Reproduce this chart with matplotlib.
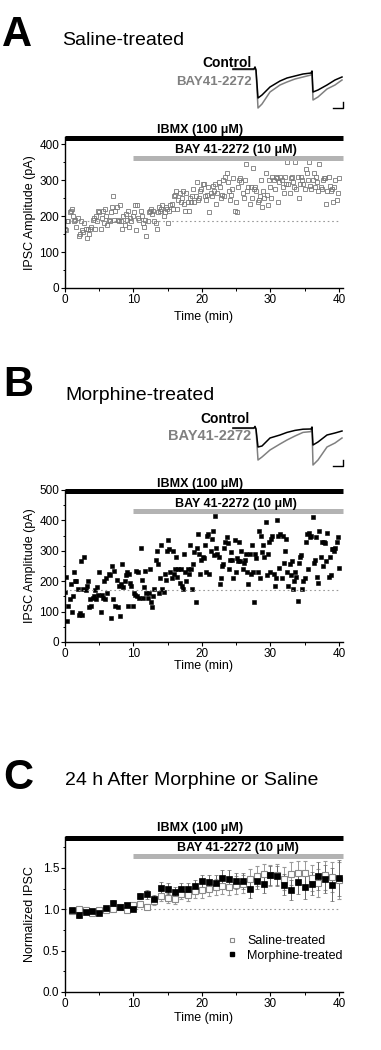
import numpy as np
import matplotlib.pyplot as plt
from matplotlib.ticker import MultipleLocator
from matplotlib.lines import Line2D

plt.rcParams['font.family'] = ['Liberation Sans', 'DejaVu Sans']

# ---- data ----
# A: saline-treated, IPSC amplitude (pA), one sweep every 10 s
saline_amp = [165, 160, 185, 185, 210, 215, 220, 200, 185, 190, 170, 195,
              145, 150, 185, 160, 155, 180, 165, 140, 165, 150, 165, 170,
              190, 195, 165, 200, 185, 215, 210, 165, 195, 215, 180, 220,
              200, 175, 190, 185, 210, 225, 255, 190, 215, 225, 190, 185,
              230, 185, 165, 200, 175, 205, 190, 215, 170, 195, 185, 200,
              210, 230, 160, 230, 195, 190, 215, 200, 180, 170, 190, 145,
              185, 210, 215, 220, 205, 215, 185, 180, 165, 210, 225, 215,
              220, 230, 200, 210, 225, 220, 180, 215, 230, 235, 220, 255,
              260, 270, 220, 245, 265, 240, 250, 270, 235, 215, 265, 240,
              215, 250, 240, 255, 275, 240, 255, 295, 245, 250, 270, 275,
              290, 290, 255, 245, 260, 280, 210, 265, 255, 285, 270, 290,
              235, 265, 295, 280, 250, 260, 300, 255, 310, 320, 295, 270,
              245, 260, 275, 305, 215, 240, 210, 280, 300, 305, 295, 265,
              250, 300, 345, 270, 280, 235, 280, 250, 335, 275, 280, 270,
              240, 245, 255, 300, 225, 270, 250, 320, 260, 230, 300, 280,
              250, 310, 300, 275, 310, 305, 240, 295, 310, 300, 280, 265,
              310, 290, 350, 290, 265, 305, 310, 295, 280, 350, 275, 310,
              250, 290, 310, 300, 290, 275, 330, 320, 300, 350, 285, 275,
              300, 320, 280, 310, 295, 270, 345, 280, 275, 300, 305, 305,
              235, 270, 310, 285, 270, 275, 240, 280, 300, 245, 265, 305]

# B: morphine-treated, IPSC amplitude (pA)
morph_amp = [165, 215, 70, 120, 140, 190, 100, 150, 230, 200, 200, 175,
             90, 95, 265, 90, 175, 280, 170, 185, 200, 115, 140, 120,
             145, 150, 170, 140, 180, 155, 230, 100, 155, 145, 200, 140,
             210, 160, 225, 220, 80, 250, 140, 235, 120, 205, 115, 185,
             85, 190, 255, 180, 200, 220, 230, 120, 225, 195, 185, 120,
             160, 155, 235, 150, 230, 145, 310, 205, 145, 180, 235, 160,
             145, 160, 240, 130, 115, 150, 175, 270, 300, 255, 160, 210,
             320, 175, 165, 225, 205, 300, 335, 305, 230, 210, 300, 225,
             240, 280, 215, 240, 195, 240, 185, 175, 290, 230, 200, 240,
             225, 320, 240, 175, 255, 295, 130, 310, 355, 290, 225, 270,
             280, 275, 320, 230, 350, 355, 225, 300, 340, 365, 285, 415,
             310, 290, 280, 190, 210, 250, 255, 310, 330, 345, 325, 240,
             270, 295, 270, 210, 335, 230, 275, 265, 330, 265, 300, 240,
             260, 270, 290, 230, 190, 290, 225, 320, 230, 130, 290, 275,
             230, 365, 210, 350, 295, 320, 280, 395, 220, 290, 330, 230,
             340, 350, 225, 185, 210, 400, 350, 245, 355, 210, 350, 260,
             300, 340, 230, 185, 255, 220, 265, 175, 200, 230, 215, 135,
             260, 280, 285, 175, 200, 210, 330, 355, 240, 360, 345, 350,
             410, 260, 270, 345, 215, 195, 365, 280, 330, 250, 330, 325,
             265, 360, 215, 280, 220, 305, 305, 300, 310, 330, 345, 245]
sweep_time = np.linspace(0, 40, len(saline_amp))
saline_base = 187
morph_base = 171

# C: normalized IPSC, 1-min bins, mean +/- SEM
bin_time = np.arange(1, 41)
sal_norm = [0.98, 1.00, 0.99, 0.96, 0.99, 0.99, 1.01, 1.03, 0.99, 1.05,
            1.07, 1.03, 1.10, 1.16, 1.14, 1.13, 1.18, 1.17, 1.22, 1.23,
            1.25, 1.27, 1.28, 1.27, 1.29, 1.31, 1.37, 1.40, 1.43, 1.41,
            1.42, 1.37, 1.43, 1.44, 1.44, 1.38, 1.32, 1.41, 1.39, 1.35]
sal_err = [0.02, 0.02, 0.02, 0.02, 0.02, 0.02, 0.02, 0.02, 0.02, 0.03,
           0.03, 0.03, 0.05, 0.06, 0.06, 0.06, 0.06, 0.07, 0.08, 0.09,
           0.09, 0.10, 0.10, 0.10, 0.11, 0.11, 0.12, 0.12, 0.12, 0.13,
           0.13, 0.14, 0.14, 0.15, 0.15, 0.16, 0.17, 0.18, 0.18, 0.22]
morph_norm = [0.99, 0.93, 0.97, 0.98, 0.95, 1.02, 1.08, 1.03, 1.05, 1.01,
              1.16, 1.18, 1.12, 1.26, 1.25, 1.21, 1.25, 1.25, 1.28, 1.34,
              1.33, 1.32, 1.38, 1.37, 1.34, 1.34, 1.24, 1.34, 1.31, 1.41,
              1.40, 1.30, 1.23, 1.33, 1.27, 1.31, 1.40, 1.37, 1.30, 1.38]
morph_err = [0.02, 0.03, 0.02, 0.02, 0.02, 0.02, 0.03, 0.02, 0.03, 0.02,
             0.04, 0.05, 0.05, 0.07, 0.07, 0.06, 0.07, 0.07, 0.08, 0.08,
             0.09, 0.09, 0.10, 0.10, 0.10, 0.10, 0.10, 0.10, 0.11, 0.12,
             0.12, 0.13, 0.12, 0.14, 0.14, 0.14, 0.17, 0.17, 0.20, 0.22]

# example traces (ms, pA)
trace_t = [3, 24, 25, 26, 28, 32, 40, 50, 57, 65, 73, 81, 82, 83, 88, 97, 105, 112]
tr_a_ctrl = [0, 0, 10, -5, -145, -130, -90, -60, -45, -35, -25, -20, -10,
             -115, -105, -80, -55, -40]
tr_a_bay = [-3, -3, 8, -8, -195, -175, -115, -80, -65, -50, -40, -30, -15,
            -155, -140, -100, -80, -55]
tr_b_ctrl = [0, 0, 8, -5, -95, -90, -50, -35, -22, -12, -6, -5, 5,
             -85, -70, -35, -25, -15]
tr_b_bay = [-2, -2, 6, -8, -160, -145, -110, -80, -60, -40, -22, -18, 0,
            -185, -160, -95, -75, -50]

IBMX_LABEL = 'IBMX (100 \u03bcM)'
BAY_LABEL = 'BAY 41-2272 (10 \u03bcM)'
BAY_START = 10

W, H = 381, 1050
fig = plt.figure(figsize=(W / 100, H / 100), dpi=100)
GREY = '#808080'


def box(x0, y0, x1, y1):
    return [x0 / W, 1 - y1 / H, (x1 - x0) / W, (y1 - y0) / H]


def ftext(x, y, s, **kw):
    fig.text(x / W, 1 - y / H, s, **kw)


def style(ax, ymaj, ymin):
    ax.spines['top'].set_visible(False)
    ax.spines['right'].set_visible(False)
    for sp in ('left', 'bottom'):
        ax.spines[sp].set_linewidth(1.0)
    ax.set_xlim(0, 40.6)
    ax.xaxis.set_major_locator(MultipleLocator(10))
    ax.xaxis.set_minor_locator(MultipleLocator(5))
    ax.yaxis.set_major_locator(MultipleLocator(ymaj))
    ax.yaxis.set_minor_locator(MultipleLocator(ymin))
    ax.tick_params(which='major', direction='out', length=3, width=0.8,
                   labelsize=8.5, pad=1.2)
    ax.tick_params(which='minor', direction='out', length=1.8, width=0.7)
    ax.set_xlabel('Time (min)', fontsize=9)
    ax.yaxis.set_label_coords(-0.105, 0.5)


def drug_bars(ax, y_ibmx, y_bay):
    ax.plot([0, 40.6], [y_ibmx, y_ibmx], color='black', lw=3.6,
            solid_capstyle='butt', clip_on=False, zorder=5)
    ax.plot([BAY_START, 40.6], [y_bay, y_bay], color='#b3b3b3', lw=3.6,
            solid_capstyle='butt', clip_on=False, zorder=5)


def traces(y0, y1, ylim, ctrl, bay, bar):
    ax = fig.add_axes(box(230, y0, 350, y1))
    ax.plot(trace_t, bay, color=GREY, lw=1.1)
    ax.plot(trace_t, ctrl, color='black', lw=1.1)
    ax.plot([103, 113, 113], [bar[1], bar[1], bar[0]], color='black', lw=1.0)
    ax.set_xlim(0, 120)
    ax.set_ylim(*ylim)
    ax.axis('off')


# ---------------- panel A ----------------
ftext(2, 46, 'A', fontsize=30, fontweight='bold')
ftext(62, 45, 'Saline-treated', fontsize=14)
ftext(252, 67, 'Control', fontsize=10, fontweight='bold', ha='right')
ftext(252, 85, 'BAY41-2272', fontsize=9.5, fontweight='bold', ha='right',
      color=GREY)
traces(55, 115, (-230, 70), tr_a_ctrl, tr_a_bay, (-165, -195))

axA = fig.add_axes(box(65, 137, 343, 288))
axA.plot(sweep_time, saline_amp, ls='none', marker='s', ms=2.7, mfc='none',
         mec='#7a7a7a', mew=0.6)
axA.plot([0, 40], [saline_base, saline_base], color='#999999', lw=0.8,
         ls=(0, (1.5, 2.5)))
axA.set_ylim(0, 420)
style(axA, 100, 50)
drug_bars(axA, 417, 361)
axA.set_ylabel('IPSC Amplitude (pA)', fontsize=9)
axA.xaxis.set_label_coords(0.5, -0.155)
ftext(200, 133, IBMX_LABEL, fontsize=9, fontweight='bold', ha='center')
ftext(236, 153, BAY_LABEL, fontsize=9, fontweight='bold', ha='center')

# ---------------- panel B ----------------
ftext(3, 396, 'B', fontsize=30, fontweight='bold')
ftext(65, 400, 'Morphine-treated', fontsize=14)
ftext(250, 423, 'Control', fontsize=10, fontweight='bold', ha='right')
ftext(251, 440, 'BAY41-2272', fontsize=10.5, fontweight='bold', ha='right',
      color=GREY)
traces(415, 475, (-235, 65), tr_b_ctrl, tr_b_bay, (-160, -190))

axB = fig.add_axes(box(65, 490, 343, 642))
axB.plot(sweep_time, morph_amp, ls='none', marker='s', ms=2.5, mfc='black',
         mec='black', mew=0.4)
axB.plot([0, 40], [morph_base, morph_base], color='#999999', lw=0.8,
         ls=(0, (1.5, 2.5)))
axB.set_ylim(0, 500)
style(axB, 100, 50)
drug_bars(axB, 496, 431)
axB.set_ylabel('IPSC Amplitude (pA)', fontsize=9)
axB.xaxis.set_label_coords(0.5, -0.12)
ftext(200, 487, IBMX_LABEL, fontsize=9, fontweight='bold', ha='center')
ftext(236, 507, BAY_LABEL, fontsize=9, fontweight='bold', ha='center')

# ---------------- panel C ----------------
ftext(3, 789, 'C', fontsize=30, fontweight='bold')
ftext(65, 785, '24 h After Morphine or Saline', fontsize=14)

axC = fig.add_axes(box(65, 837, 343, 992))
axC.plot([0, 40], [1, 1], color='#999999', lw=0.8, ls=(0, (1.5, 2.5)))
axC.errorbar(bin_time, sal_norm, yerr=sal_err, ls='none', ecolor='#9a9a9a',
             elinewidth=0.7, capsize=1.5, capthick=0.7, marker='s', ms=4.3,
             mfc='white', mec='#8a8a8a', mew=0.8)
axC.errorbar(bin_time, morph_norm, yerr=morph_err, ls='none', ecolor='#666666',
             elinewidth=0.7, capsize=1.5, capthick=0.7, marker='s', ms=4.3,
             mfc='black', mec='black', mew=0.5)
axC.set_ylim(0, 1.875)
style(axC, 0.5, 0.25)
axC.yaxis.set_major_formatter(plt.FormatStrFormatter('%.1f'))
drug_bars(axC, 1.86, 1.645)
axC.set_ylabel('Normalized IPSC', fontsize=9)
axC.xaxis.set_label_coords(0.5, -0.13)
leg_handles = [
    Line2D([], [], ls='none', marker='s', ms=3.4, mfc='white', mec='#8a8a8a',
           mew=0.8),
    Line2D([], [], ls='none', marker='s', ms=3.4, mfc='black', mec='black'),
]
axC.legend(leg_handles, ['Saline-treated', 'Morphine-treated'],
           loc='upper left', bbox_to_anchor=(0.56, 0.40), frameon=False,
           fontsize=9, handlelength=1.0, handletextpad=0.7,
           labelspacing=0.2, borderaxespad=0)
ftext(200, 831, IBMX_LABEL, fontsize=9, fontweight='bold', ha='center')
ftext(238, 851, BAY_LABEL, fontsize=9, fontweight='bold', ha='center')

fig.savefig('out.png', dpi=100)
